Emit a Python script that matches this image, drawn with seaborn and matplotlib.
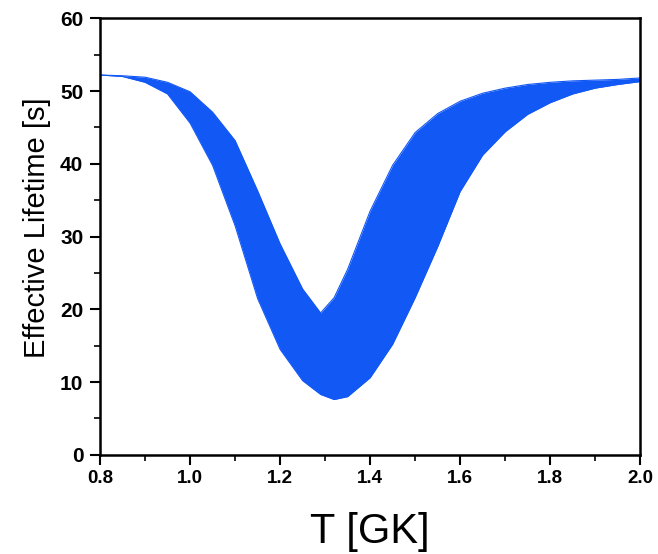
import seaborn as sns
import pandas as pd
import matplotlib.pyplot as plt
from matplotlib.ticker import MultipleLocator

sns.set_style("white")
plt.rcParams['font.family'] = ['Liberation Sans', 'DejaVu Sans']
plt.rcParams['text.color'] = 'black'
plt.rcParams['axes.labelcolor'] = 'black'
plt.rcParams['xtick.color'] = 'black'
plt.rcParams['ytick.color'] = 'black'

# temperature grid [GK]
t = [0.80, 0.85, 0.90, 0.95, 1.00, 1.05, 1.10, 1.15, 1.20, 1.25, 1.29, 1.32, 1.35,
     1.40, 1.45, 1.50, 1.55, 1.60, 1.65, 1.70, 1.75, 1.80, 1.85, 1.90, 1.95, 2.00]
# upper / lower bounds of effective lifetime [s]
upper = [52.2, 52.1, 51.9, 51.2, 49.9, 47.1, 43.2, 36.3, 29.0, 22.8, 19.5, 21.6, 25.5,
         33.5, 39.8, 44.3, 46.9, 48.6, 49.7, 50.4, 50.9, 51.2, 51.4, 51.5, 51.6, 51.8]
lower = [52.2, 52.0, 51.2, 49.6, 45.6, 39.8, 31.5, 21.5, 14.5, 10.2, 8.3, 7.6, 8.0,
         10.6, 15.2, 21.6, 28.6, 36.2, 41.2, 44.4, 46.8, 48.4, 49.6, 50.4, 50.9, 51.3]

df = pd.DataFrame({'T': t, 'upper': upper, 'lower': lower})
band_color = "#1258f5"

fig = plt.figure(figsize=(6.58, 5.54), dpi=100)
ax = fig.add_axes([0.152, 0.179, 0.821, 0.788])

ax.fill_between(df['T'], df['lower'], df['upper'], color=band_color, lw=0)
sns.lineplot(data=df, x='T', y='upper', ax=ax, color=band_color, lw=0.8)
sns.lineplot(data=df, x='T', y='lower', ax=ax, color=band_color, lw=0.8)

ax.set_xlim(0.8, 2.0)
ax.set_ylim(0, 60)
ax.xaxis.set_major_locator(MultipleLocator(0.2))
ax.xaxis.set_minor_locator(MultipleLocator(0.1))
ax.yaxis.set_major_locator(MultipleLocator(10))
ax.yaxis.set_minor_locator(MultipleLocator(5))
ax.set_xticklabels([f"{v:.1f}" for v in ax.get_xticks()])

ax.tick_params(which='major', direction='out', length=7, width=1.5,
               bottom=True, left=True)
ax.tick_params(which='minor', direction='out', length=4.5, width=1.2,
               bottom=True, left=True)
ax.tick_params(axis='x', which='major', labelsize=13.5, pad=4)
ax.tick_params(axis='y', which='major', labelsize=15, pad=5)
for lab in ax.get_xticklabels() + ax.get_yticklabels():
    lab.set_fontweight('bold')

for s in ax.spines.values():
    s.set_linewidth(1.8)
    s.set_color('black')

ax.set_xlabel("T [GK]", fontsize=30, labelpad=18)
ax.set_ylabel("Effective Lifetime [s]", fontsize=21, labelpad=10)
ax.yaxis.set_label_coords(-0.09, 0.52)

fig.savefig("out.png", dpi=100)
